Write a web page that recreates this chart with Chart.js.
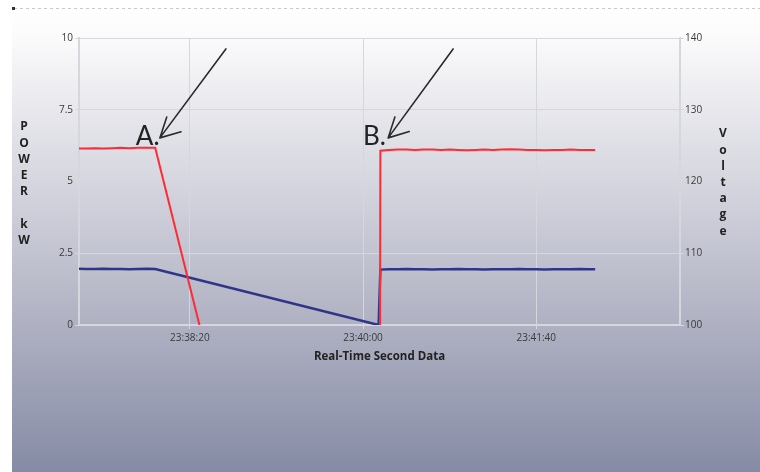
<!DOCTYPE html>
<html>
<head>
<meta charset="utf-8">
<script src="https://cdn.jsdelivr.net/npm/chart.js@4.4.1/dist/chart.umd.min.js"></script>
<style>
    body { margin: 0; background: #ffffff; }
    #wrap { width: 760px; height: 472px; }
</style>
</head>
<body>
<div id="wrap"><canvas id="chart"></canvas></div>
<script>
// time in seconds since midnight (23:37:16 .. 23:42:14)
let timeSec = [85036, 85040, 85045, 85050, 85055, 85060, 85065, 85070, 85075, 85080,
    85209,
    85210, 85215, 85220, 85225, 85230, 85235, 85240, 85245, 85250, 85255, 85260, 85265, 85270,
    85275, 85280, 85285, 85290, 85295, 85300, 85305, 85310, 85315, 85320, 85325, 85330, 85334];

// Voltage (right axis)
let voltage = [124.6, 124.6, 124.65, 124.6, 124.65, 124.7, 124.65, 124.7, 124.7, 124.7,
    0,
    124.3, 124.4, 124.45, 124.45, 124.4, 124.45, 124.45, 124.4, 124.45, 124.4, 124.35, 124.4, 124.45,
    124.4, 124.45, 124.5, 124.45, 124.4, 124.4, 124.35, 124.4, 124.4, 124.45, 124.4, 124.4, 124.4];

// Power kW (left axis)
let powerKw = [1.96, 1.95, 1.95, 1.96, 1.95, 1.95, 1.94, 1.95, 1.96, 1.95,
    0,
    1.93, 1.94, 1.94, 1.95, 1.94, 1.94, 1.93, 1.94, 1.94, 1.95, 1.94, 1.94, 1.93,
    1.94, 1.94, 1.94, 1.95, 1.94, 1.94, 1.93, 1.94, 1.94, 1.94, 1.95, 1.94, 1.94];

let xTicks = [85100, 85200, 85300];
let xMin = 85036;
let xMax = 85383;

// hand drawn markers: label, arrow tip and arrow tail (time, kW)
let markLabels = ['A.', 'B.'];
let markLabelTime = [85068.8, 85200];
let markTipTime = [85082.7, 85214.5];
let markTailTime = [85120.8, 85252];
let markTipKw = 6.52;
let markTailKw = 9.62;
let markLabelKw = 6.27;

let leftTitle = ['P', 'O', 'W', 'E', 'R', '', 'k', 'W'];
let rightTitle = ['V', 'o', 'l', 't', 'a', 'g', 'e'];
let xTitle = 'Real-Time Second Data';

function fmtTime(s) {
    let h = Math.floor(s / 3600);
    let m = Math.floor((s % 3600) / 60);
    let sec = s % 60;
    return [h, m, sec].map(v => String(v).padStart(2, '0')).join(':');
}

let gridColor = '#d6d7dc';
let tickFont = { family: 'Open Sans', size: 10 };

let decor = {
    id: 'decor',
    beforeDraw(chart) {
        let ctx = chart.ctx;
        ctx.save();
        ctx.fillStyle = '#ffffff';
        ctx.fillRect(0, 0, chart.width, chart.height);
        // panel gradient
        let g = ctx.createLinearGradient(0, 8, 0, chart.height);
        g.addColorStop(0, '#ffffff');
        g.addColorStop(0.06, '#fbfbfc');
        g.addColorStop(0.5, '#c6c7d3');
        g.addColorStop(1, '#868ba5');
        ctx.fillStyle = g;
        ctx.fillRect(12, 8, chart.width - 12, chart.height - 8);
        // dotted top border
        ctx.strokeStyle = '#c8c8c8';
        ctx.setLineDash([3, 3]);
        ctx.beginPath();
        ctx.moveTo(14, 8.5);
        ctx.lineTo(chart.width, 8.5);
        ctx.stroke();
        ctx.setLineDash([]);
        ctx.fillStyle = '#333';
        ctx.fillRect(12, 7, 3, 3);
        ctx.restore();
    },
    afterDraw(chart) {
        let ctx = chart.ctx;
        let xs = chart.scales.x;
        let ys = chart.scales.y;
        let area = chart.chartArea;
        ctx.save();
        // vertical axis titles
        ctx.fillStyle = '#222';
        ctx.font = 'bold 12px "Open Sans"';
        ctx.textAlign = 'center';
        ctx.textBaseline = 'middle';
        leftTitle.forEach((ch, i) => ctx.fillText(ch, 24, 127 + i * 16.2));
        rightTitle.forEach((ch, i) => ctx.fillText(ch, 723, 134 + i * 16.2));
        ctx.font = 'bold 11.5px "Open Sans"';
        ctx.fillText(xTitle, (area.left + area.right) / 2, 357);

        // arrows and labels
        ctx.strokeStyle = '#2a2a2a';
        ctx.lineWidth = 1.6;
        ctx.lineCap = 'round';
        ctx.fillStyle = '#222';
        ctx.font = '26px Lato';
        ctx.textAlign = 'left';
        ctx.textBaseline = 'alphabetic';
        for (let i = 0; i < markLabels.length; i++) {
            let tx = xs.getPixelForValue(markTipTime[i]);
            let ty = ys.getPixelForValue(markTipKw);
            let sx = xs.getPixelForValue(markTailTime[i]);
            let sy = ys.getPixelForValue(markTailKw);
            ctx.beginPath();
            ctx.moveTo(sx, sy);
            ctx.lineTo(tx, ty);
            let ang = Math.atan2(sy - ty, sx - tx);
            [[-0.32, 22], [0.65, 22]].forEach(w => {
                ctx.moveTo(tx, ty);
                ctx.lineTo(tx + Math.cos(ang + w[0]) * w[1], ty + Math.sin(ang + w[0]) * w[1]);
            });
            ctx.stroke();
            ctx.fillText(markLabels[i], xs.getPixelForValue(markLabelTime[i]), ys.getPixelForValue(markLabelKw));
        }
        ctx.restore();
    }
};

let points = (vals) => timeSec.map((t, i) => ({ x: t, y: vals[i] }));

new Chart(document.getElementById('chart'), {
    type: 'line',
    data: {
        datasets: [
            {
                label: 'Voltage',
                data: points(voltage),
                yAxisID: 'y1',
                borderColor: '#ff2b35',
                borderWidth: 2,
                pointRadius: 0,
                tension: 0
            },
            {
                label: 'Power kW',
                data: points(powerKw),
                yAxisID: 'y',
                borderColor: '#2f3586',
                borderWidth: 2.5,
                pointRadius: 0,
                tension: 0
            }
        ]
    },
    options: {
        responsive: true,
        maintainAspectRatio: false,
        animation: false,
        layout: { padding: { top: 38 } },
        plugins: {
            legend: { display: false },
            tooltip: { enabled: false }
        },
        scales: {
            x: {
                type: 'linear',
                min: xMin,
                max: xMax,
                afterBuildTicks: (scale) => { scale.ticks = xTicks.map(v => ({ value: v })); },
                afterFit: (scale) => { scale.height = 147; },
                ticks: {
                    callback: (v) => fmtTime(v),
                    font: tickFont,
                    color: '#3a3a3a',
                    padding: 3,
                    maxRotation: 0
                },
                grid: { color: gridColor, tickLength: 4, lineWidth: 1 },
                border: { color: gridColor, width: 2 }
            },
            y: {
                position: 'left',
                min: 0,
                max: 10,
                afterFit: (scale) => { scale.width = 79; },
                ticks: { stepSize: 2.5, font: tickFont, color: '#3a3a3a', padding: 2 },
                grid: { color: gridColor, tickLength: 4, lineWidth: 1 },
                border: { color: gridColor, width: 2 }
            },
            y1: {
                position: 'right',
                min: 100,
                max: 140,
                afterFit: (scale) => { scale.width = 80; },
                ticks: { stepSize: 10, font: tickFont, color: '#3a3a3a', padding: 1 },
                grid: { drawOnChartArea: false, color: gridColor, tickLength: 4 },
                border: { color: gridColor, width: 2 }
            }
        }
    },
    plugins: [decor]
});
</script>
</body>
</html>
